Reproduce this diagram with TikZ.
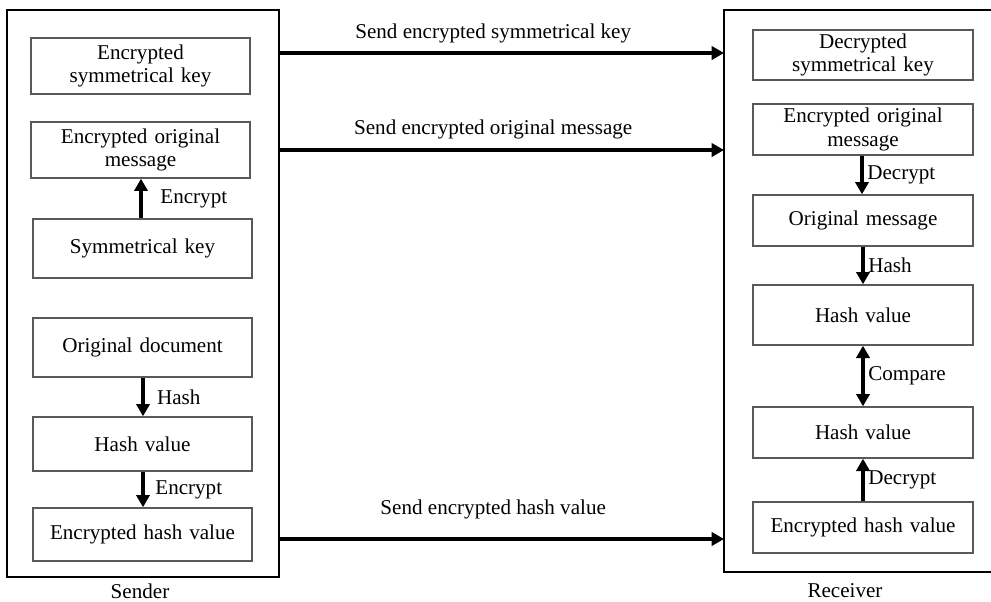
\documentclass[tikz,border=0pt]{standalone}
\usepackage{fontspec}
\setmainfont{Liberation Serif}
\usepackage{tikz}
\usetikzlibrary{arrows.meta,positioning,calc}

\begin{document}
\begin{tikzpicture}[
  x=0.02cm, y=-0.02cm,
  stepbox/.style={draw=black!65, line width=0.8pt, minimum width=4.38cm,
    text width=4.2cm, align=center, inner sep=1pt, font=\fontsize{12}{13.5}\selectfont},
  frame/.style={draw=black, line width=1.1pt},
  flow/.style={line width=2.1pt, -{Triangle[length=7pt,width=7.5pt]}},
  flow both/.style={line width=2.1pt, {Triangle[length=7pt,width=7.5pt]}-{Triangle[length=7pt,width=7.5pt]}},
  step label/.style={right, inner sep=2pt, font=\fontsize{12}{13.5}\selectfont},
  send label/.style={xshift=-5pt, font=\fontsize{12}{13.5}\selectfont},
  side label/.style={font=\fontsize{12}{13.5}\selectfont},
]
\useasboundingbox (0,0) rectangle (991,602);

% Sender frame
\node[frame, minimum width=5.44cm, minimum height=11.34cm] (sender) at (143,293.5) {};
\node[side label] (senderlbl) at (140,591) {Sender};

% Receiver frame (open on the right)
\coordinate (rtop) at (724,10);
\coordinate (rbot) at (724,572);
\draw[frame] (1010,10) -- (rtop) -- (rbot) -- (1010,572);
\node[side label] (receiverlbl) at (845,591) {Receiver};

% Sender boxes
\node[stepbox, minimum height=1.12cm] (lkey) at (140.5,66) {Encrypted\\symmetrical key};
\node[stepbox, minimum height=1.12cm] (lmsg) at (140.5,150) {Encrypted original\\message};
\node[stepbox, minimum height=1.18cm] (lsym) at (142.5,248.5) {Symmetrical key};
\node[stepbox, minimum height=1.18cm] (ldoc) at (142.5,347.5) {Original document};
\node[stepbox, minimum height=1.08cm] (lhash) at (142.5,444) {Hash value};
\node[stepbox, minimum height=1.06cm] (lenc) at (142.5,534.5) {Encrypted hash value};

% Receiver boxes
\node[stepbox, minimum width=4.4cm, minimum height=1.0cm] (rkey) at (863,55) {Decrypted\\symmetrical key};
\node[stepbox, minimum width=4.4cm, minimum height=1.02cm] (rmsg) at (863,129.5) {Encrypted original\\message};
\node[stepbox, minimum width=4.4cm, minimum height=1.02cm] (rorig) at (863,220.5) {Original message};
\node[stepbox, minimum width=4.4cm, minimum height=1.2cm] (rhash) at (863,315) {Hash value};
\node[stepbox, minimum width=4.4cm, minimum height=1.02cm] (rdec) at (863,432.5) {Hash value};
\node[stepbox, minimum width=4.4cm, minimum height=1.02cm] (renc) at (863,527.5) {Encrypted hash value};

% Sender steps
\draw[flow] (lsym.north -| 141,0) -- (lmsg.south -| 141,0)
  node[midway, step label, xshift=8pt] {Encrypt};
\draw[flow] (ldoc.south -| 143,0) -- (lhash.north -| 143,0)
  node[midway, step label, xshift=5pt] {Hash};
\draw[flow] (lhash.south -| 143,0) -- (lenc.north -| 143,0)
  node[midway, step label, xshift=4pt] {Encrypt};

% Receiver steps
\draw[flow] (rmsg.south -| 862,0) -- (rorig.north -| 862,0)
  node[midway, step label] {Decrypt};
\draw[flow] (rorig.south -| 863,0) -- (rhash.north -| 863,0)
  node[midway, step label] {Hash};
\draw[flow both] (rhash.south -| 863,0) -- (rdec.north -| 863,0)
  node[midway, step label] {Compare};
\draw[flow] (renc.north -| 863,0) -- (rdec.south -| 863,0)
  node[midway, step label] {Decrypt};

% Transfers
\draw[flow] (sender.east |- 0,53) -- (rtop |- 0,53)
  node[midway, above=1pt, send label] {Send encrypted symmetrical key};
\draw[flow] (sender.east |- 0,150) -- (rtop |- 0,150)
  node[midway, above=2pt, send label] {Send encrypted original message};
\draw[flow] (sender.east |- 0,539) -- (rtop |- 0,539)
  node[midway, above=7pt, send label] {Send encrypted hash value};

\end{tikzpicture}
\end{document}
